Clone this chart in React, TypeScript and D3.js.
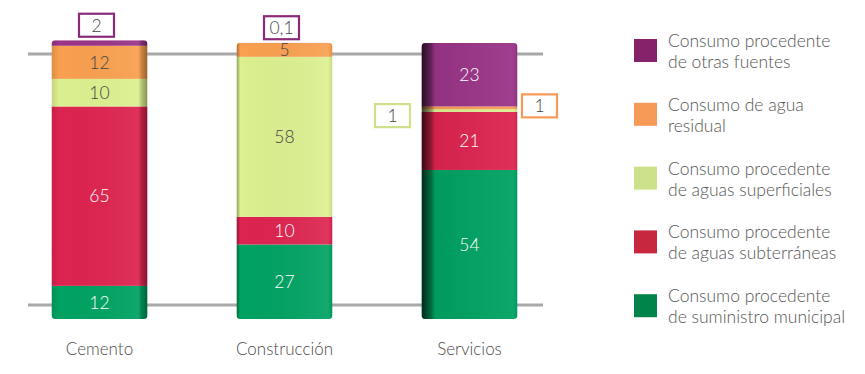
import React from "react";
import * as d3 from "d3";

const categories = ["Cemento", "Construcción", "Servicios"];
const municipal = [12, 27, 54];
const subterraneas = [65, 10, 21];
const superficiales = [10, 58, 1];
const residual = [12, 5, 1];
const otras = [2, 0.1, 23];

const seriesKeys = ["municipal", "subterraneas", "superficiales", "residual", "otras"];
const seriesValues: Record<string, number[]> = { municipal, subterraneas, superficiales, residual, otras };
const legendLabels: Record<string, string[]> = {
  otras: ["Consumo procedente", "de otras fuentes"],
  residual: ["Consumo de agua", "residual"],
  superficiales: ["Consumo procedente", "de aguas superficiales"],
  subterraneas: ["Consumo procedente", "de aguas subterráneas"],
  municipal: ["Consumo procedente", "de suministro municipal"],
};
const legendOrder = ["otras", "residual", "superficiales", "subterraneas", "municipal"];
const barColors: Record<string, string> = {
  municipal: "#00A262",
  subterraneas: "#DD2450",
  superficiales: "#DCF090",
  residual: "#F9A050",
  otras: "#9A3487",
};
const legendColors: Record<string, string> = {
  municipal: "#00844A",
  subterraneas: "#C8283F",
  superficiales: "#CDE08A",
  residual: "#F79A57",
  otras: "#852269",
};
const boxColors: Record<string, string> = {
  otras: "#8B2A78",
  residual: "#F79A57",
  superficiales: "#CDE08A",
};
const darkText: Record<string, boolean> = { superficiales: true, residual: true };
// small values shown in callout boxes: [category index, series key, side]
const callouts: [number, string, string][] = [
  [0, "otras", "top"],
  [1, "otras", "top"],
  [2, "superficiales", "left"],
  [2, "residual", "right"],
];
const gridTicks = [0, 100];

const fmt = (v: number) => String(v).replace(".", ",");
const FONT = "Lato, 'Noto Sans', sans-serif";

export default function App() {
  const width = 865, height = 374;
  const x = d3.scalePoint<string>().domain(categories).range([7, 562]).padding(0.5);
  const y = d3.scaleLinear().domain([0, 100]).range([319, 43]);
  const yBack = d3.scaleLinear().domain([0, 100]).range([305, 54]);
  const bw = 96;

  const rows = categories.map((c, i) => {
    const r: any = { cat: c };
    seriesKeys.forEach((k) => (r[k] = seriesValues[k][i]));
    return r;
  });
  const stacked = d3.stack<any>().keys(seriesKeys)(rows);

  const isCallout = (ci: number, k: string) => callouts.some((c) => c[0] === ci && c[1] === k);

  return (
    <svg width={width} height={height} style={{ position: "absolute", left: 0, top: 0, background: "#fff" }}>
      <defs>
        {categories.map((c, i) => (
          <linearGradient key={c} id={`shade${i}`} x1="0" x2="1" y1="0" y2="0">
            {i === 0 && (
              <>
                <stop offset="0" stopColor="#000" stopOpacity="0.12" />
                <stop offset="0.08" stopColor="#000" stopOpacity="0" />
                <stop offset="0.9" stopColor="#fff" stopOpacity="0.06" />
                <stop offset="0.93" stopColor="#000" stopOpacity="0.15" />
                <stop offset="1" stopColor="#000" stopOpacity="0.4" />
              </>
            )}
            {i === 1 && (
              <>
                <stop offset="0" stopColor="#000" stopOpacity="0.35" />
                <stop offset="0.04" stopColor="#000" stopOpacity="0" />
                <stop offset="0.95" stopColor="#fff" stopOpacity="0.08" />
                <stop offset="1" stopColor="#000" stopOpacity="0.1" />
              </>
            )}
            {i === 2 && (
              <>
                <stop offset="0" stopColor="#000" stopOpacity="0.75" />
                <stop offset="0.1" stopColor="#000" stopOpacity="0.35" />
                <stop offset="0.14" stopColor="#000" stopOpacity="0.05" />
                <stop offset="0.95" stopColor="#fff" stopOpacity="0.05" />
                <stop offset="1" stopColor="#000" stopOpacity="0.1" />
              </>
            )}
          </linearGradient>
        ))}
        {categories.map((c, i) => {
          const total = d3.sum(seriesKeys, (k) => seriesValues[k][i]);
          const cx = x(c)!;
          return (
            <clipPath key={c} id={`clip${i}`}>
              <rect x={cx - bw / 2} y={y(total)} width={bw} height={y(0) - y(total)} rx={4} ry={4} />
            </clipPath>
          );
        })}
      </defs>

      {gridTicks.map((t) => (
        <line key={t} x1={28} x2={543} y1={yBack(t)} y2={yBack(t)} stroke="#A8A8A8" strokeWidth={3} />
      ))}

      {categories.map((c, ci) => {
        const cx = x(c)!;
        const x0 = cx - bw / 2;
        const total = d3.sum(seriesKeys, (k) => seriesValues[k][ci]);
        return (
          <g key={c}>
            <g clipPath={`url(#clip${ci})`}>
              {stacked.map((s) => {
                const d = s[ci];
                const y0 = y(d[1]);
                const y1 = y(d[0]);
                return (
                  <rect key={s.key} x={x0} y={y0} width={bw} height={Math.max(0, y1 - y0)} fill={barColors[s.key]} />
                );
              })}
              <rect x={x0} y={y(total)} width={bw} height={y(0) - y(total)} fill={`url(#shade${ci})`} />
            </g>
            {stacked.map((s) => {
              const d = s[ci];
              const v = seriesValues[s.key][ci];
              if (isCallout(ci, s.key)) return null;
              const my = (y(d[0]) + y(d[1])) / 2;
              return (
                <text key={s.key} x={cx} y={my} dy="0.36em" textAnchor="middle" fontFamily={FONT} fontWeight={300} fontSize={17.5}
                  fill={darkText[s.key] ? "#444" : "#fff"}>
                  {fmt(v)}
                </text>
              );
            })}
            {callouts.filter((co) => co[0] === ci).map((co) => {
              const k = co[1];
              const s = stacked.find((q) => q.key === k)!;
              const d = s[ci];
              const my = (y(d[0]) + y(d[1])) / 2;
              let bx = cx, by = my;
              if (co[2] === "top") { bx = cx - 3; by = y(d[1]) - 15; }
              if (co[2] === "left") { bx = x0 - 29; by = my + 5; }
              if (co[2] === "right") { bx = x0 + bw + 22; by = my - 2; }
              const label = fmt(seriesValues[k][ci]);
              const bwid = 35, bh = 23;
              return (
                <g key={k}>
                  <rect x={bx - bwid / 2} y={by - bh / 2} width={bwid} height={bh} fill="#fff" stroke={boxColors[k]} strokeWidth={2.2} />
                  <text x={bx} y={by} dy="0.36em" textAnchor="middle" fontFamily={FONT} fontWeight={300} fontSize={17.5} fill="#444">{label}</text>
                </g>
              );
            })}
            <text x={cx} y={355} textAnchor="middle" fontFamily={FONT} fontWeight={300} fontSize={17} fill="#4a4a4a">{c}</text>
          </g>
        );
      })}

      {legendOrder.map((k, i) => {
        const ly = 39 + i * 63.8;
        return (
          <g key={k}>
            <rect x={634} y={ly} width={23} height={23} fill={legendColors[k]} />
            <text x={668} y={ly + 8} fontFamily={FONT} fontWeight={300} fontSize={17.5} fill="#555">{legendLabels[k][0]}</text>
            <text x={668} y={ly + 29} fontFamily={FONT} fontWeight={300} fontSize={17.5} fill="#555">{legendLabels[k][1]}</text>
          </g>
        );
      })}
    </svg>
  );
}
